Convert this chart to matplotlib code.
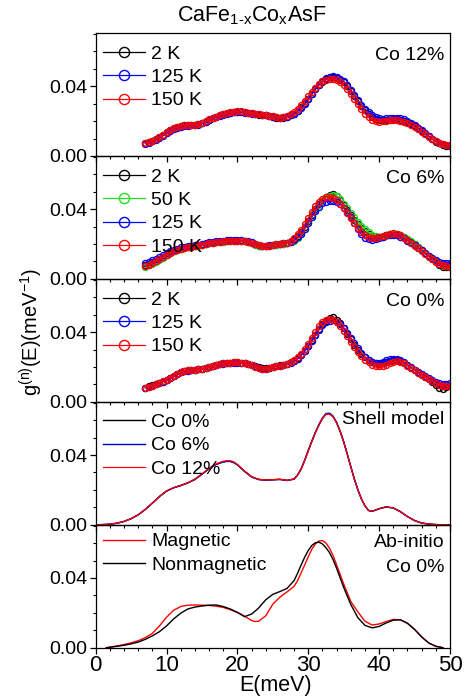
import numpy as np
import matplotlib
matplotlib.use("Agg")
import matplotlib.pyplot as plt
from matplotlib.ticker import MultipleLocator, FormatStrFormatter

plt.rcParams['font.family'] = ['Liberation Sans', 'DejaVu Sans']
plt.rcParams['mathtext.fontset'] = 'custom'
plt.rcParams['mathtext.rm'] = 'Liberation Sans'
plt.rcParams['mathtext.it'] = 'Liberation Sans:italic'
plt.rcParams['mathtext.bf'] = 'Liberation Sans:bold'

# ---------------- data ----------------
E_exp = np.arange(7.0, 50.01, 0.5)   # measurement energy grid (meV)

p1_2K = [0.0075,0.0080,0.0088,0.0097,0.0108,0.0122,0.0135,0.0148,0.0158,0.0166,
         0.0172,0.0176,0.0178,0.0178,0.0178,0.0181,0.0188,0.0197,0.0207,0.0216,
         0.0224,0.0232,0.0238,0.0244,0.0248,0.0251,0.0253,0.0253,0.0251,0.0248,
         0.0244,0.0240,0.0237,0.0235,0.0233,0.0230,0.0225,0.0220,0.0215,0.0218,
         0.0224,0.0232,0.0243,0.0258,0.0278,0.0302,0.0328,0.0355,0.0382,0.0406,
         0.0426,0.0441,0.0450,0.0452,0.0448,0.0438,0.0422,0.0400,0.0374,0.0345,
         0.0315,0.0287,0.0263,0.0242,0.0225,0.0213,0.0206,0.0204,0.0205,0.0207,
         0.0209,0.0209,0.0206,0.0200,0.0192,0.0182,0.0171,0.0158,0.0144,0.0128,
         0.0112,0.0096,0.0082,0.0072,0.0064,0.0059,0.0056]
p1_125K = [0.0070,0.0076,0.0083,0.0092,0.0103,0.0116,0.0129,0.0142,0.0152,0.0161,
           0.0167,0.0171,0.0174,0.0175,0.0176,0.0180,0.0187,0.0196,0.0206,0.0215,
           0.0223,0.0231,0.0237,0.0243,0.0247,0.0250,0.0251,0.0251,0.0249,0.0246,
           0.0243,0.0240,0.0238,0.0236,0.0234,0.0231,0.0226,0.0221,0.0219,0.0221,
           0.0226,0.0233,0.0242,0.0255,0.0273,0.0297,0.0324,0.0353,0.0382,0.0408,
           0.0430,0.0446,0.0455,0.0457,0.0453,0.0443,0.0428,0.0406,0.0380,0.0352,
           0.0322,0.0294,0.0270,0.0250,0.0233,0.0222,0.0216,0.0214,0.0215,0.0218,
           0.0220,0.0220,0.0216,0.0209,0.0199,0.0188,0.0176,0.0162,0.0147,0.0131,
           0.0115,0.0100,0.0087,0.0076,0.0068,0.0062,0.0058]
p1_150K = [0.0072,0.0078,0.0086,0.0095,0.0107,0.0121,0.0135,0.0148,0.0159,0.0167,
           0.0173,0.0177,0.0179,0.0179,0.0180,0.0183,0.0190,0.0199,0.0209,0.0218,
           0.0226,0.0234,0.0240,0.0246,0.0250,0.0253,0.0255,0.0255,0.0253,0.0249,
           0.0245,0.0241,0.0238,0.0236,0.0234,0.0231,0.0227,0.0222,0.0219,0.0222,
           0.0229,0.0239,0.0252,0.0268,0.0290,0.0315,0.0342,0.0368,0.0392,0.0412,
           0.0428,0.0438,0.0441,0.0440,0.0434,0.0422,0.0405,0.0382,0.0355,0.0326,
           0.0296,0.0268,0.0243,0.0222,0.0207,0.0199,0.0196,0.0198,0.0202,0.0205,
           0.0207,0.0206,0.0203,0.0197,0.0188,0.0177,0.0165,0.0152,0.0138,0.0123,
           0.0108,0.0095,0.0084,0.0075,0.0068,0.0064,0.0062]

p2_2K = [0.0078,0.0086,0.0095,0.0105,0.0116,0.0127,0.0139,0.0150,0.0160,0.0168,
         0.0174,0.0178,0.0181,0.0184,0.0188,0.0192,0.0196,0.0200,0.0204,0.0207,
         0.0210,0.0212,0.0214,0.0216,0.0217,0.0218,0.0219,0.0218,0.0216,0.0212,
         0.0206,0.0198,0.0191,0.0187,0.0187,0.0190,0.0194,0.0197,0.0199,0.0202,
         0.0206,0.0214,0.0226,0.0244,0.0268,0.0297,0.0330,0.0365,0.0400,0.0430,
         0.0455,0.0472,0.0482,0.0488,0.0476,0.0452,0.0425,0.0395,0.0365,0.0338,
         0.0312,0.0290,0.0272,0.0258,0.0248,0.0242,0.0240,0.0243,0.0249,0.0255,
         0.0258,0.0257,0.0250,0.0240,0.0228,0.0214,0.0198,0.0182,0.0166,0.0149,
         0.0132,0.0114,0.0096,0.0080,0.0068,0.0066,0.0070]
p2_50K = [0.0068,0.0077,0.0087,0.0098,0.0110,0.0122,0.0135,0.0147,0.0158,0.0167,
          0.0173,0.0177,0.0180,0.0183,0.0187,0.0191,0.0195,0.0199,0.0203,0.0206,
          0.0209,0.0211,0.0213,0.0215,0.0216,0.0217,0.0218,0.0217,0.0215,0.0211,
          0.0205,0.0197,0.0190,0.0186,0.0186,0.0189,0.0193,0.0196,0.0198,0.0201,
          0.0204,0.0210,0.0220,0.0236,0.0258,0.0287,0.0320,0.0356,0.0392,0.0424,
          0.0450,0.0468,0.0478,0.0480,0.0474,0.0456,0.0432,0.0405,0.0378,0.0352,
          0.0328,0.0305,0.0285,0.0267,0.0253,0.0244,0.0240,0.0242,0.0247,0.0253,
          0.0257,0.0257,0.0252,0.0243,0.0231,0.0217,0.0201,0.0185,0.0168,0.0151,
          0.0134,0.0117,0.0101,0.0088,0.0078,0.0073,0.0072]
p2_125K = [0.0092,0.0099,0.0107,0.0116,0.0126,0.0137,0.0148,0.0158,0.0167,0.0174,
           0.0180,0.0184,0.0187,0.0190,0.0193,0.0197,0.0201,0.0205,0.0209,0.0212,
           0.0215,0.0217,0.0219,0.0221,0.0222,0.0222,0.0222,0.0221,0.0219,0.0215,
           0.0209,0.0201,0.0194,0.0190,0.0190,0.0193,0.0197,0.0200,0.0202,0.0205,
           0.0208,0.0214,0.0223,0.0238,0.0260,0.0288,0.0320,0.0354,0.0388,0.0415,
           0.0434,0.0443,0.0446,0.0445,0.0440,0.0428,0.0408,0.0382,0.0352,0.0318,
           0.0285,0.0256,0.0236,0.0226,0.0224,0.0228,0.0235,0.0243,0.0250,0.0254,
           0.0254,0.0250,0.0242,0.0232,0.0220,0.0207,0.0193,0.0178,0.0163,0.0148,
           0.0133,0.0119,0.0107,0.0098,0.0092,0.0090,0.0090]
p2_150K = [0.0072,0.0081,0.0091,0.0102,0.0114,0.0126,0.0138,0.0150,0.0160,0.0168,
           0.0174,0.0178,0.0182,0.0185,0.0189,0.0193,0.0197,0.0201,0.0205,0.0208,
           0.0211,0.0213,0.0215,0.0217,0.0218,0.0219,0.0220,0.0219,0.0217,0.0213,
           0.0207,0.0199,0.0192,0.0188,0.0188,0.0191,0.0195,0.0198,0.0200,0.0203,
           0.0208,0.0218,0.0234,0.0256,0.0282,0.0313,0.0348,0.0385,0.0418,0.0443,
           0.0460,0.0469,0.0471,0.0466,0.0452,0.0432,0.0406,0.0378,0.0348,0.0318,
           0.0290,0.0266,0.0250,0.0240,0.0236,0.0237,0.0240,0.0245,0.0252,0.0258,
           0.0262,0.0260,0.0250,0.0237,0.0223,0.0207,0.0191,0.0175,0.0159,0.0143,
           0.0127,0.0112,0.0099,0.0088,0.0079,0.0072,0.0066]

p3_2K = [0.0082,0.0088,0.0094,0.0100,0.0107,0.0115,0.0124,0.0135,0.0147,0.0160,
         0.0170,0.0176,0.0180,0.0182,0.0184,0.0186,0.0189,0.0193,0.0198,0.0204,
         0.0210,0.0216,0.0220,0.0223,0.0225,0.0226,0.0226,0.0225,0.0223,0.0219,
         0.0213,0.0205,0.0197,0.0192,0.0192,0.0196,0.0201,0.0205,0.0209,0.0213,
         0.0218,0.0226,0.0236,0.0250,0.0268,0.0292,0.0320,0.0352,0.0385,0.0418,
         0.0446,0.0466,0.0478,0.0484,0.0472,0.0450,0.0422,0.0390,0.0358,0.0327,
         0.0298,0.0274,0.0255,0.0239,0.0227,0.0220,0.0218,0.0221,0.0227,0.0234,
         0.0239,0.0240,0.0235,0.0224,0.0210,0.0196,0.0182,0.0169,0.0156,0.0143,
         0.0128,0.0112,0.0098,0.0082,0.0076,0.0084,0.0090]
p3_125K = [0.0080,0.0086,0.0093,0.0100,0.0108,0.0116,0.0125,0.0136,0.0148,0.0160,
           0.0169,0.0175,0.0179,0.0181,0.0183,0.0186,0.0189,0.0193,0.0198,0.0204,
           0.0210,0.0215,0.0219,0.0222,0.0224,0.0225,0.0225,0.0224,0.0222,0.0218,
           0.0212,0.0204,0.0196,0.0191,0.0191,0.0195,0.0200,0.0204,0.0208,0.0212,
           0.0217,0.0224,0.0234,0.0248,0.0266,0.0290,0.0318,0.0350,0.0382,0.0413,
           0.0440,0.0458,0.0466,0.0467,0.0460,0.0446,0.0425,0.0397,0.0366,0.0335,
           0.0306,0.0280,0.0258,0.0241,0.0230,0.0225,0.0225,0.0230,0.0237,0.0243,
           0.0246,0.0245,0.0238,0.0226,0.0212,0.0198,0.0185,0.0172,0.0160,0.0148,
           0.0136,0.0125,0.0115,0.0108,0.0104,0.0104,0.0106]
p3_150K = [0.0080,0.0086,0.0093,0.0100,0.0108,0.0117,0.0127,0.0138,0.0150,0.0162,
           0.0171,0.0177,0.0181,0.0183,0.0185,0.0187,0.0190,0.0194,0.0199,0.0205,
           0.0211,0.0216,0.0220,0.0223,0.0225,0.0226,0.0226,0.0225,0.0222,0.0217,
           0.0210,0.0202,0.0194,0.0190,0.0191,0.0195,0.0200,0.0204,0.0208,0.0212,
           0.0218,0.0228,0.0240,0.0256,0.0276,0.0302,0.0332,0.0366,0.0400,0.0432,
           0.0458,0.0472,0.0476,0.0472,0.0458,0.0436,0.0408,0.0377,0.0345,0.0314,
           0.0286,0.0262,0.0242,0.0226,0.0214,0.0206,0.0203,0.0205,0.0212,0.0221,
           0.0229,0.0232,0.0229,0.0220,0.0207,0.0193,0.0180,0.0167,0.0155,0.0142,
           0.0129,0.0117,0.0106,0.0097,0.0091,0.0090,0.0092]

E_shell = [0,1,2,3,4,5,6,7,8,9,10,11,12,13,14,15,16,17,18,18.5,19,19.5,20,21,22,23,
           24,25,26,27,28,28.5,29,29.5,30,30.5,31,31.5,32,32.5,33,33.5,34,34.5,35,
           35.5,36,36.5,37,37.5,38,38.5,39,40,41,42,43,44,45,46,47,48,49,50]
shell_co0 = [0.0000,0.0001,0.0003,0.0009,0.0019,0.0035,0.0057,0.0088,0.0124,0.0162,
             0.0193,0.0212,0.0225,0.0240,0.0260,0.0290,0.0322,0.0347,0.0361,0.0364,
             0.0364,0.0357,0.0344,0.0307,0.0275,0.0260,0.0256,0.0258,0.0260,0.0254,
             0.0262,0.0285,0.0320,0.0370,0.0425,0.0478,0.0528,0.0572,0.0610,0.0634,
             0.0636,0.0620,0.0585,0.0535,0.0475,0.0405,0.0333,0.0262,0.0200,0.0148,
             0.0108,0.0082,0.0077,0.0092,0.0102,0.0096,0.0075,0.0047,0.0024,0.0010,
             0.0004,0.0001,0.0000,0.0000]
shell_co6 = [0.0000,0.0001,0.0003,0.0009,0.0019,0.0035,0.0057,0.0088,0.0124,0.0162,
             0.0193,0.0212,0.0225,0.0240,0.0260,0.0290,0.0321,0.0346,0.0360,0.0363,
             0.0363,0.0356,0.0343,0.0306,0.0274,0.0259,0.0256,0.0258,0.0260,0.0254,
             0.0262,0.0286,0.0321,0.0371,0.0427,0.0480,0.0530,0.0575,0.0613,0.0638,
             0.0640,0.0623,0.0587,0.0537,0.0476,0.0406,0.0334,0.0263,0.0200,0.0148,
             0.0108,0.0082,0.0077,0.0092,0.0102,0.0096,0.0075,0.0047,0.0024,0.0010,
             0.0004,0.0001,0.0000,0.0000]
shell_co12 = [0.0000,0.0001,0.0003,0.0009,0.0019,0.0035,0.0057,0.0088,0.0124,0.0162,
              0.0194,0.0213,0.0226,0.0241,0.0262,0.0292,0.0324,0.0350,0.0364,0.0367,
              0.0367,0.0360,0.0346,0.0308,0.0276,0.0261,0.0257,0.0259,0.0261,0.0255,
              0.0262,0.0285,0.0320,0.0369,0.0424,0.0477,0.0527,0.0571,0.0609,0.0633,
              0.0635,0.0619,0.0584,0.0534,0.0474,0.0404,0.0332,0.0262,0.0200,0.0148,
              0.0109,0.0083,0.0078,0.0093,0.0103,0.0097,0.0075,0.0047,0.0024,0.0010,
              0.0004,0.0001,0.0000,0.0000]

E_abin = [1.5,3,4,5,6,7,8,9,10,11,12,13,14,15,16,17,18,19,20,21,22,22.5,23,24,25,26,
          27,28,28.5,29,29.5,30,30.5,31,31.5,32,32.5,33,33.5,34,35,36,37,38,39,40,
          41,42,43,44,45,46,47,48,49]
abin_magnetic = [0.0000,0.0010,0.0018,0.0028,0.0040,0.0058,0.0082,0.0125,0.0175,0.0215,
                 0.0236,0.0244,0.0245,0.0244,0.0242,0.0238,0.0231,0.0218,0.0203,0.0181,
                 0.0156,0.0150,0.0152,0.0183,0.0250,0.0290,0.0320,0.0352,0.0385,0.0430,
                 0.0475,0.0522,0.0565,0.0595,0.0612,0.0614,0.0600,0.0570,0.0528,0.0475,
                 0.0365,0.0265,0.0205,0.0152,0.0130,0.0136,0.0150,0.0162,0.0160,0.0140,
                 0.0105,0.0062,0.0027,0.0008,0.0000]
abin_nonmagnetic = [0.0000,0.0008,0.0014,0.0022,0.0032,0.0048,0.0068,0.0092,0.0125,0.0165,
                    0.0198,0.0222,0.0233,0.0239,0.0244,0.0245,0.0236,0.0222,0.0202,0.0178,
                    0.0193,0.0210,0.0228,0.0275,0.0306,0.0322,0.0340,0.0385,0.0428,0.0475,
                    0.0520,0.0558,0.0586,0.0602,0.0605,0.0595,0.0573,0.0545,0.0505,0.0455,
                    0.0345,0.0248,0.0172,0.0128,0.0114,0.0122,0.0142,0.0158,0.0160,0.0140,
                    0.0105,0.0062,0.0027,0.0008,0.0000]

exp_panels = [
    ("Co 12%", [("2 K", p1_2K, "black"), ("125 K", p1_125K, "#0000ff"), ("150 K", p1_150K, "#ff0000")]),
    ("Co 6%", [("2 K", p2_2K, "black"), ("50 K", p2_50K, "#22dd22"),
               ("125 K", p2_125K, "#0000ff"), ("150 K", p2_150K, "#ff0000")]),
    ("Co 0%", [("2 K", p3_2K, "black"), ("125 K", p3_125K, "#0000ff"), ("150 K", p3_150K, "#ff0000")]),
]

# ---------------- figure ----------------
W, H = 468, 700
fig = plt.figure(figsize=(W / 100, H / 100), dpi=100)
left = 95.7 / W
width = (450 - 95.7) / W
top_px, bot_px = 33.0, 647.7
ph = (bot_px - top_px) / 5
FS = 14

axes = []
for i in range(5):
    y0 = 1 - (top_px + (i + 1) * ph) / H
    ax = fig.add_axes([left, y0, width, ph / H])
    ax.set_facecolor('none')
    ax.set_xlim(0, 50)
    ax.set_ylim(0, 0.0705)
    ax.xaxis.set_major_locator(MultipleLocator(10))
    ax.xaxis.set_minor_locator(MultipleLocator(2))
    ax.yaxis.set_major_locator(MultipleLocator(0.04))
    ax.yaxis.set_minor_locator(MultipleLocator(0.01))
    ax.yaxis.set_major_formatter(FormatStrFormatter('%.2f'))
    ax.tick_params(which='major', direction='out', length=4.5, width=0.9, pad=1.5)
    ax.tick_params(axis='y', labelsize=14)
    ax.tick_params(axis='x', labelsize=16, pad=1.0)
    ax.tick_params(which='minor', direction='out', length=2.5, width=0.8)
    for s in ax.spines.values():
        s.set_linewidth(0.9)
    if i < 4:
        ax.tick_params(labelbottom=False)
    axes.append(ax)


def leg(ax, y_anchor, **extra):
    ax.legend(loc='upper left', bbox_to_anchor=(0.0, y_anchor), frameon=False, fontsize=FS,
              handlelength=2.2, handletextpad=0.3, labelspacing=0.29, borderpad=0.25,
              borderaxespad=0.1, **extra)


for ax, (label, series) in zip(axes[:3], exp_panels):
    for name, vals, col in series:
        ax.plot(E_exp, vals, '-o', color=col, lw=0.9, ms=4.3, mfc='none', mew=1.0,
                label=name)
    leg(ax, 0.955, markerscale=1.7)
    ax.text(0.985, 0.82, label, transform=ax.transAxes, ha='right', va='center', fontsize=FS)

ax = axes[3]
ax.plot(E_shell, shell_co0, color='black', lw=1.0, label='Co 0%')
ax.plot(E_shell, shell_co6, color='#0000cc', lw=1.0, label='Co 6%')
ax.plot(E_shell, shell_co12, color='#ff0000', lw=0.9, label='Co 12%')
leg(ax, 0.96)
ax.text(0.985, 0.855, 'Shell model', transform=ax.transAxes, ha='right', va='center', fontsize=FS)

ax = axes[4]
ax.plot(E_abin, abin_magnetic, color='#ff0000', lw=1.0, label='Magnetic')
ax.plot(E_abin, abin_nonmagnetic, color='black', lw=1.0, label='Nonmagnetic')
leg(ax, 0.99)
ax.text(0.985, 0.855, 'Ab-initio', transform=ax.transAxes, ha='right', va='center', fontsize=FS)
ax.text(0.985, 0.65, 'Co 0%', transform=ax.transAxes, ha='right', va='center', fontsize=FS)

fig.text(252 / W, 1 - 16 / H, 'CaFe$_{\\mathregular{1\u2010x}}$Co$_{\\mathregular{x}}$AsF',
         ha='center', va='center', fontsize=15.5)
fig.text(276 / W, 1 - 686 / H, 'E(meV)', ha='center', va='center', fontsize=15.5)
fig.text(31 / W, 1 - 332 / H, r'g$^{\mathregular{(n)}}$(E)(meV$^{\mathregular{-1}}$)',
         ha='center', va='center', rotation=90, fontsize=14.5)

fig.savefig('out.png', dpi=100)
